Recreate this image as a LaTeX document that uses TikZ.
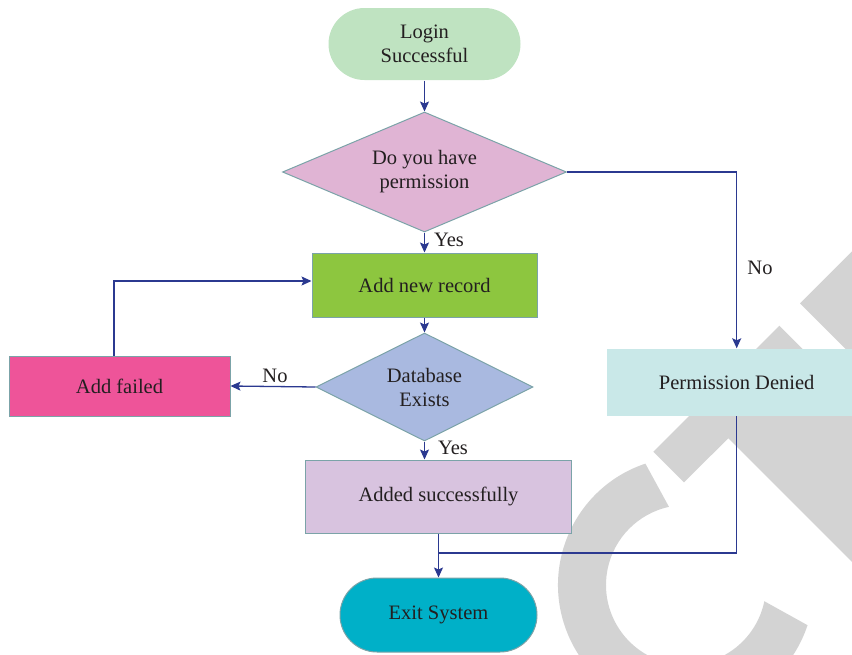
\documentclass[tikz,border=0pt]{standalone}
\usepackage{fontspec}
\setmainfont{Liberation Serif}
\usetikzlibrary{shapes.geometric,arrows.meta}
\definecolor{arr}{HTML}{2B3990}
\definecolor{edgec}{HTML}{7BA3A8}
\definecolor{wm}{HTML}{D3D3D3}
\definecolor{txt}{HTML}{231F20}
\definecolor{cLogin}{HTML}{BFE3C1}
\definecolor{cPerm}{HTML}{E0B4D4}
\definecolor{cAdd}{HTML}{8DC63F}
\definecolor{cDb}{HTML}{A9B9E0}
\definecolor{cFail}{HTML}{EE5499}
\definecolor{cOk}{HTML}{D8C3DF}
\definecolor{cExit}{HTML}{00B0C8}
\definecolor{cDen}{HTML}{C9E8E8}
\begin{document}
\begin{tikzpicture}[x=1pt,y=-1pt,
  every node/.style={font=\fontsize{20.5}{24}\selectfont, text=txt},
  box/.style={draw=edgec, line width=1pt, inner sep=0pt, align=center},
  term/.style={box, rounded corners=36pt},
  dec/.style={diamond, draw=edgec, line width=1pt, inner sep=0pt, align=center},
  arrowline/.style={draw=arr, line width=1.3pt, -{Stealth[length=10pt,width=9pt,inset=2pt]}},
  plainline/.style={draw=arr, line width=1.3pt},
  lbl/.style={inner sep=0pt}
]
\useasboundingbox (0,0) rectangle (852,654);
\clip (0,0) rectangle (852,654);
% watermark
\fill[wm] (800,303.3) -- (900,203.3) -- (900,403.3) -- cycle;
\fill[wm] (653.3,451.7) -- (779.3,325.7) -- (900,446.3) -- (900,609.7) -- (728.3,438.3) -- (684,482.3) -- cycle;
\fill[wm] ([shift={(686,585)}]-108.5:128) arc[start angle=-108.5,end angle=-341.7,radius=128]
  -- ([shift={(686,585)}]-348.3:80) arc[start angle=-348.3,end angle=-102.3,radius=80] -- cycle;
% nodes
\node[term, draw=none, fill=cLogin, minimum width=192pt, minimum height=72pt] (login) at (424.5,44) {Login\\Successful};
\node[dec, aspect=2.37, fill=cPerm, minimum width=284pt, minimum height=120pt] (perm) at (424.5,172) {Do you have\\permission};
\node[box, fill=cAdd, minimum width=225pt, minimum height=64pt] (add) at (424.5,285) {Add new record};
\node[dec, aspect=2, fill=cDb, minimum width=217pt, minimum height=108pt] (db) at (424.5,387) {Database\\Exists};
\node[box, fill=cFail, minimum width=221pt, minimum height=60pt] (fail) at (119.5,386) {Add failed};
\node[box, fill=cOk, minimum width=266pt, minimum height=73pt] (ok) at (438.5,496.5) {Added successfully};
\node[term, fill=cExit, minimum width=197pt, minimum height=74pt, rounded corners=37pt] (exit) at (438.5,615) {Exit System};
\node[box, draw=none, fill=cDen, minimum width=260pt, minimum height=67pt] (den) at (736.7,382.3) {Permission Denied};
% connectors
\draw[arrowline] (login) -- (perm);
\draw[arrowline] (perm) -- (add);
\draw[arrowline] (add) -- (db);
\draw[arrowline] (db.west) -- (fail.east);
\draw[arrowline] ([xshift=-5.5pt]fail.north) |- ([yshift=4pt]add.west);
\draw[arrowline] (db.south) -- (db.south |- ok.north);
\coordinate (j) at (438.5,553);
\draw[arrowline] (ok) -- (exit);
\draw[plainline] (den.south) |- (j);
\draw[arrowline] (perm.east) -| (den.north);
% labels
\node[lbl] (yes1) at (449,240) {Yes};
\node[lbl] (no1) at (275,376) {No};
\node[lbl] (yes2) at (453,448) {Yes};
\node[lbl] (no2) at (760,268) {No};
\end{tikzpicture}
\end{document}
